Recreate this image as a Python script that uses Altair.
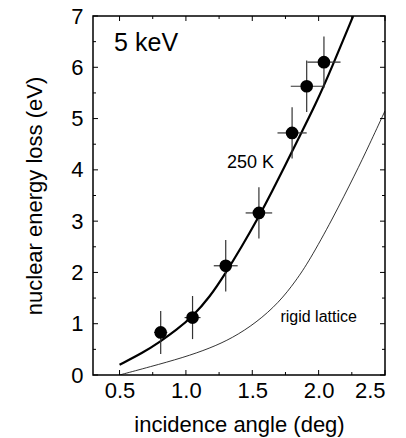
import altair as alt
import pandas as pd

# measured points (250 K)
pt_x = [0.81, 1.05, 1.30, 1.55, 1.80, 1.91, 2.04]
pt_y = [0.83, 1.12, 2.13, 3.16, 4.72, 5.63, 6.10]
pt_dx = [0.05, 0.06, 0.09, 0.10, 0.11, 0.12, 0.125]
pt_dy = [0.42, 0.42, 0.50, 0.50, 0.50, 0.50, 0.50]

# thick curve (250 K)
c250_x = [0.50, 0.68, 0.80, 0.93, 1.05, 1.18, 1.30, 1.42, 1.54, 1.65, 1.75, 1.84, 1.98, 2.10, 2.26]
c250_y = [0.20, 0.44, 0.64, 0.88, 1.14, 1.52, 1.99, 2.50, 3.04, 3.58, 4.10, 4.57, 5.29, 6.00, 7.00]

# thin curve (rigid lattice)
rig_x = [0.50, 0.73, 0.98, 1.18, 1.35, 1.53, 1.70, 1.83, 1.93, 2.10, 2.28, 2.38, 2.50]
rig_y = [0.00, 0.16, 0.34, 0.52, 0.72, 1.02, 1.41, 1.84, 2.23, 3.02, 3.94, 4.48, 5.15]

x_major = [0.5, 1.0, 1.5, 2.0, 2.5]
x_minor = [0.75, 1.25, 1.75, 2.25]
y_major = [0, 1, 2, 3, 4, 5, 6, 7]
y_minor = [0.5, 1.5, 2.5, 3.5, 4.5, 5.5, 6.5]

label_x = [0.70, 1.486, 2.0]
label_y = [6.47, 4.13, 1.13]
label_t = ["5 keV", "250 K", "rigid lattice"]

W, H = 292, 359
FONT = "Liberation Sans"

xs = alt.Scale(domain=[0.3, 2.5], nice=False, zero=False)
ys = alt.Scale(domain=[0, 7], nice=False, zero=False)

pts = pd.DataFrame({"x": pt_x, "y": pt_y,
                    "xlo": [a - b for a, b in zip(pt_x, pt_dx)],
                    "xhi": [a + b for a, b in zip(pt_x, pt_dx)],
                    "ylo": [a - b for a, b in zip(pt_y, pt_dy)],
                    "yhi": [a + b for a, b in zip(pt_y, pt_dy)]})

base_x = alt.X("x:Q", scale=xs,
               axis=alt.Axis(values=x_major, format=".1f", title="incidence angle (deg)",
                             tickSize=0, labelPadding=5, labelFontSize=22, titleFontSize=22,
                             titlePadding=13, labelFont=FONT, titleFont=FONT,
                             labelColor="black", titleColor="black", domain=False,
                             grid=False, titleFontWeight="normal"))
base_y = alt.Y("y:Q", scale=ys,
               axis=alt.Axis(values=y_major, format="d", title="nuclear energy loss (eV)",
                             tickSize=0, labelPadding=10, labelFontSize=22, titleFontSize=22,
                             titlePadding=24, labelFont=FONT, titleFont=FONT,
                             labelColor="black", titleColor="black", domain=False,
                             grid=False, titleFontWeight="normal"))

line250 = alt.Chart(pd.DataFrame({"x": c250_x, "y": c250_y})).mark_line(
    color="black", strokeWidth=2.2, interpolate="basis", clip=True
).encode(x=base_x, y=base_y)

rigid = alt.Chart(pd.DataFrame({"x": rig_x, "y": rig_y})).mark_line(
    color="black", strokeWidth=0.8, interpolate="basis", clip=True
).encode(x="x:Q", y="y:Q")

ebx = alt.Chart(pts).mark_rule(color="#333", strokeWidth=1.2).encode(
    x="xlo:Q", x2="xhi:Q", y="y:Q")
eby = alt.Chart(pts).mark_rule(color="#333", strokeWidth=1.2).encode(
    x="x:Q", y="ylo:Q", y2="yhi:Q")
dots = alt.Chart(pts).mark_circle(color="black", opacity=1, size=160).encode(
    x="x:Q", y="y:Q")

# inward ticks
def xticks(vals, length):
    df = pd.DataFrame({"x": vals})
    bot = alt.Chart(df).mark_rule(color="black", strokeWidth=1).encode(
        x="x:Q", y=alt.value(H), y2=alt.value(H - length))
    top = alt.Chart(df).mark_rule(color="black", strokeWidth=1).encode(
        x="x:Q", y=alt.value(0), y2=alt.value(length))
    return bot + top

def yticks(vals, length):
    df = pd.DataFrame({"y": vals})
    left = alt.Chart(df).mark_rule(color="black", strokeWidth=1).encode(
        y="y:Q", x=alt.value(0), x2=alt.value(length))
    right = alt.Chart(df).mark_rule(color="black", strokeWidth=1).encode(
        y="y:Q", x=alt.value(W), x2=alt.value(W - length))
    return left + right

labels = pd.DataFrame({"x": label_x, "y": label_y, "t": label_t})
lab_big = alt.Chart(labels.iloc[[0]]).mark_text(font=FONT, fontSize=25, color="black").encode(
    x="x:Q", y="y:Q", text="t:N")
lab_250 = alt.Chart(labels.iloc[[1]]).mark_text(font=FONT, fontSize=18, color="black").encode(
    x="x:Q", y="y:Q", text="t:N")
lab_rig = alt.Chart(labels.iloc[[2]]).mark_text(font=FONT, fontSize=16, color="black").encode(
    x="x:Q", y="y:Q", text="t:N")

chart = alt.layer(
    line250, rigid, ebx, eby, dots,
    xticks(x_major, 5), xticks(x_minor, 3), yticks(y_major, 5), yticks(y_minor, 3),
    lab_big, lab_250, lab_rig
).properties(
    width=W, height=H,
    autosize=alt.AutoSizeParams(type="none"),
    padding={"left": 93, "top": 16, "right": 21, "bottom": 63},
    background="white"
).configure_view(stroke="black", strokeWidth=1.5)

chart.save("out.html", embed_options={"renderer": "svg", "actions": False})
